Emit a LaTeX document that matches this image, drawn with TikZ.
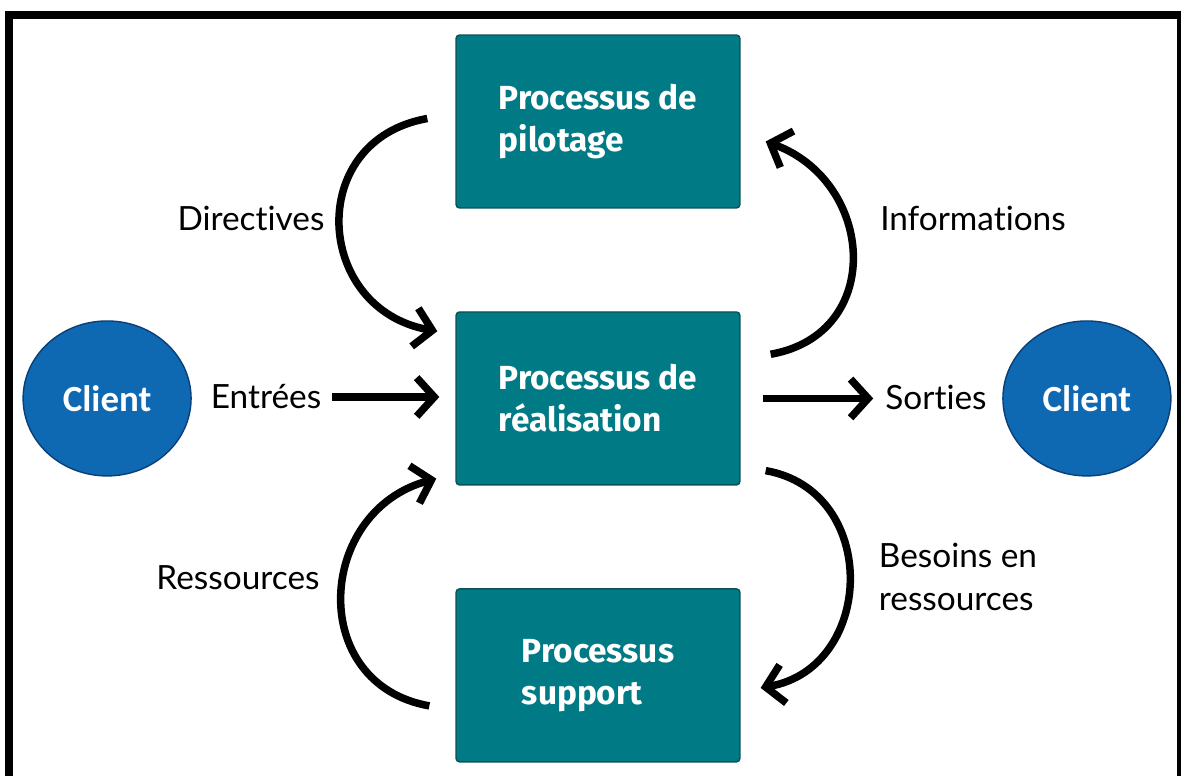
\documentclass[tikz,border=0pt]{standalone}
\usepackage{fontspec}
\setmainfont{Lato}[Ligatures=NoCommon]
\newfontfamily\procfont{Fira Sans}
\newfontfamily\clientfont{Carlito}
\usepackage{tikz}
\usetikzlibrary{shapes,arrows.meta,positioning,calc}

\definecolor{procteal}{HTML}{007A84}
\definecolor{procedge}{HTML}{0A5259}
\definecolor{clientblue}{HTML}{0E68B2}
\definecolor{clientedge}{HTML}{0B3F78}

\tikzset{
  proc/.style={draw=procedge, fill=procteal, rectangle, rounded corners=2pt, line width=0.8pt,
    minimum width=5.68cm, minimum height=3.46cm, text=white, align=left,
    font=\procfont\bfseries\fontsize{19}{24}\selectfont},
  client/.style={draw=clientedge, fill=clientblue, ellipse, line width=0.8pt,
    minimum width=3.36cm, minimum height=3.1cm, text=white,
    font=\clientfont\bfseries\fontsize{21}{25}\selectfont},
  lbl/.style={align=left, font=\fontsize{19}{24.5}\selectfont},
  flow/.style={line width=0.15cm, -{Straight Barb[length=10pt,width=22pt]}},
}

\begin{document}
\begin{tikzpicture}[x=0.02cm, y=0.02cm, node distance=5.54cm]
    \useasboundingbox (0,0) rectangle (1181,-776);

    % frame
    \begin{scope}
        \clip (0,0) rectangle (1181,-776);
        \draw[line width=0.16cm] (9,-790) -- (9,-15) -- (1181,-15) -- (1181,-790);
    \end{scope}

    % processes
    \node (pilot) [proc] at (598,-121.5) {Processus de\\pilotage};
    \node (real) [proc, below of=pilot] {Processus de\\réalisation};
    \node (supp) [proc, below of=real] {Processus\\support};

    \node (cliIn) [client, left of=real, node distance=9.82cm] {Client};
    \node (cliOut) [client, right of=real, node distance=9.78cm] {Client};

    % flow labels
    \node (dir) [lbl] at (251,-218) {Directives};
    \node (info) [lbl] at (973,-218) {Informations};
    \node (entree) [lbl] at (266,-397) {Entrées};
    \node (sortie) [lbl] at (936,-397) {Sorties};
    \node (ress) [lbl] at (238,-578) {Ressources};
    \node (besoin) [lbl] at (958,-577) {Besoins en\\ressources};

    \draw[flow, shorten <=0.1cm, shorten >=0.32cm] (entree.east) -- (entree.east -| real.west);
    \draw[flow, shorten <=0.44cm, shorten >=0.12cm] (real.east) -- (real.east -| sortie.west);

    \draw[flow] ([shift={(-28,3)}]pilot.west) to[out=190, in=170, looseness=1.5] ([shift={(-18,-20)}]real.north west);
    \draw[flow] ([shift={(30,-43)}]real.north east) to[out=10, in=-20, looseness=1.4] ([shift={(25,-20)}]pilot.east);
    \draw[flow] ([shift={(-26,-30.5)}]supp.west) to[out=170, in=195, looseness=1.4] ([shift={(-19,7)}]real.south west);
    \draw[flow] ([shift={(25,15)}]real.south east) to[out=-10, in=10, looseness=1.37] ([shift={(20,-12.5)}]supp.east);
\end{tikzpicture}
\end{document}
